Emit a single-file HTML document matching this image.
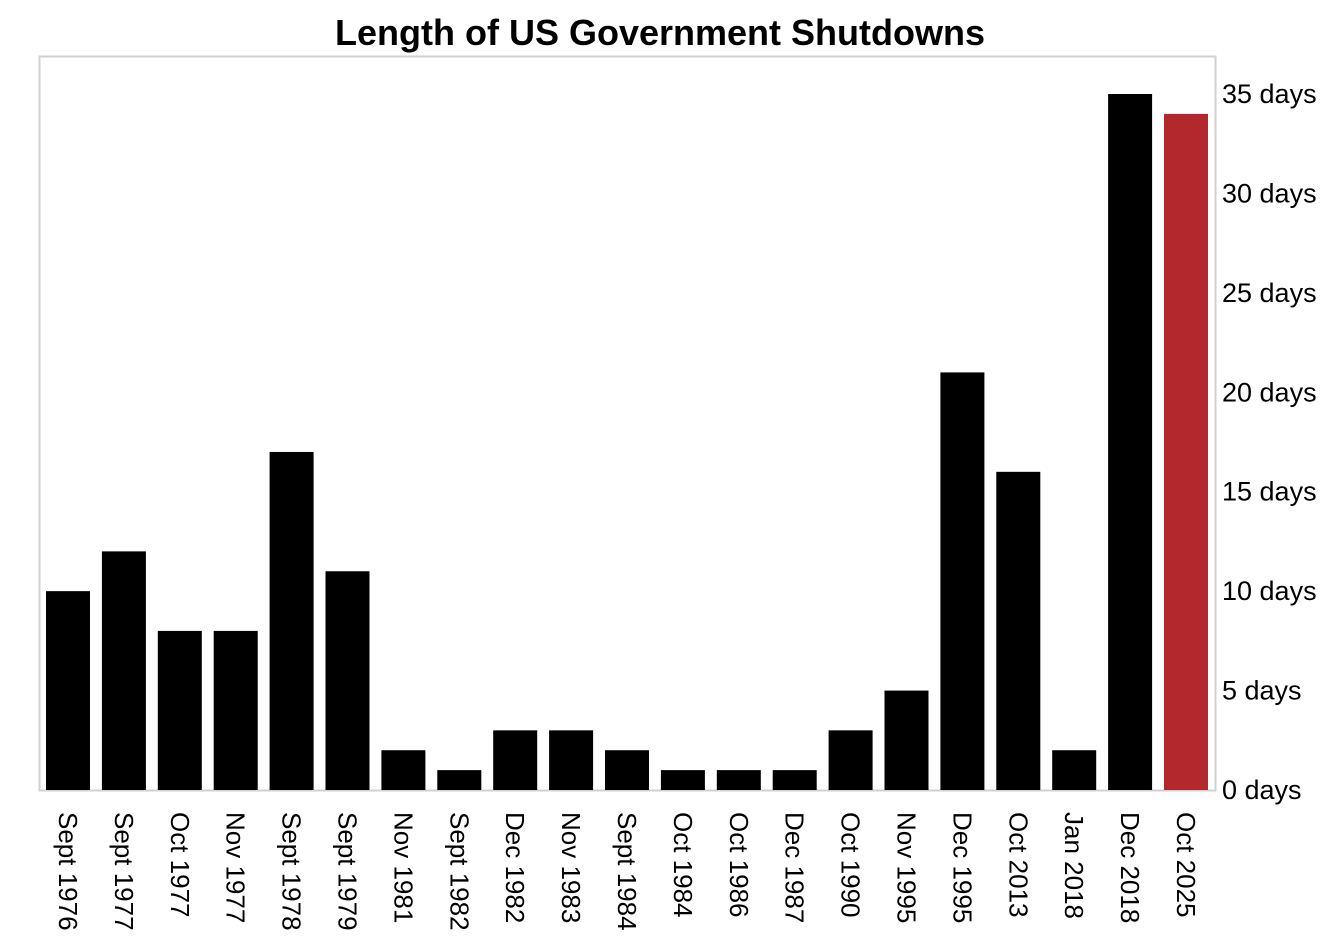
<!DOCTYPE html>
<html><head><style>
body{margin:0;background:#fff;}
svg{display:block;font-family:"Liberation Sans","DejaVu Sans",sans-serif;}
</style></head><body>
<svg width="1326" height="952" xmlns="http://www.w3.org/2000/svg">
<text x="660" y="45" text-anchor="middle" font-size="36" font-weight="bold" fill="#000">Length of US Government Shutdowns</text>
<rect x="39.5" y="56.5" width="1176" height="734" fill="none" stroke="#d0d0d0" stroke-width="2"/>
<g id="bars"></g>
<g id="labels" font-size="26" fill="#000"></g>
<g id="ticks" font-size="27" fill="#000"></g>
<script>
var v=[10,12,8,8,17,11,2,1,3,3,2,1,1,1,3,5,21,16,2,35,34];
var n=["Sept 1976","Sept 1977","Oct 1977","Nov 1977","Sept 1978","Sept 1979","Nov 1981","Sept 1982","Dec 1982","Nov 1983","Sept 1984","Oct 1984","Oct 1986","Dec 1987","Oct 1990","Nov 1995","Dec 1995","Oct 2013","Jan 2018","Dec 2018","Oct 2025"];
var ns="http://www.w3.org/2000/svg",b=document.getElementById("bars"),l=document.getElementById("labels"),t=document.getElementById("ticks");
var k=(790-94)/35;
for(var i=0;i<21;i++){
 var x=46+i*55.9,h=v[i]*k;
 var r=document.createElementNS(ns,"rect");
 r.setAttribute("x",x);r.setAttribute("y",790-h);r.setAttribute("width",44);r.setAttribute("height",h);
 r.setAttribute("fill",i==20?"#b2282c":"#000");b.appendChild(r);
 var tx=document.createElementNS(ns,"text");
 tx.setAttribute("transform","translate("+(x+22-9)+",812) rotate(90)");
 tx.textContent=n[i];l.appendChild(tx);
}
for(var j=0;j<=7;j++){
 var y=790-j*5*k;
 var tt=document.createElementNS(ns,"text");
 tt.setAttribute("x",1222);tt.setAttribute("y",y+9);tt.textContent=(j*5)+" days";t.appendChild(tt);
}
</script>
</svg>
</body></html>
